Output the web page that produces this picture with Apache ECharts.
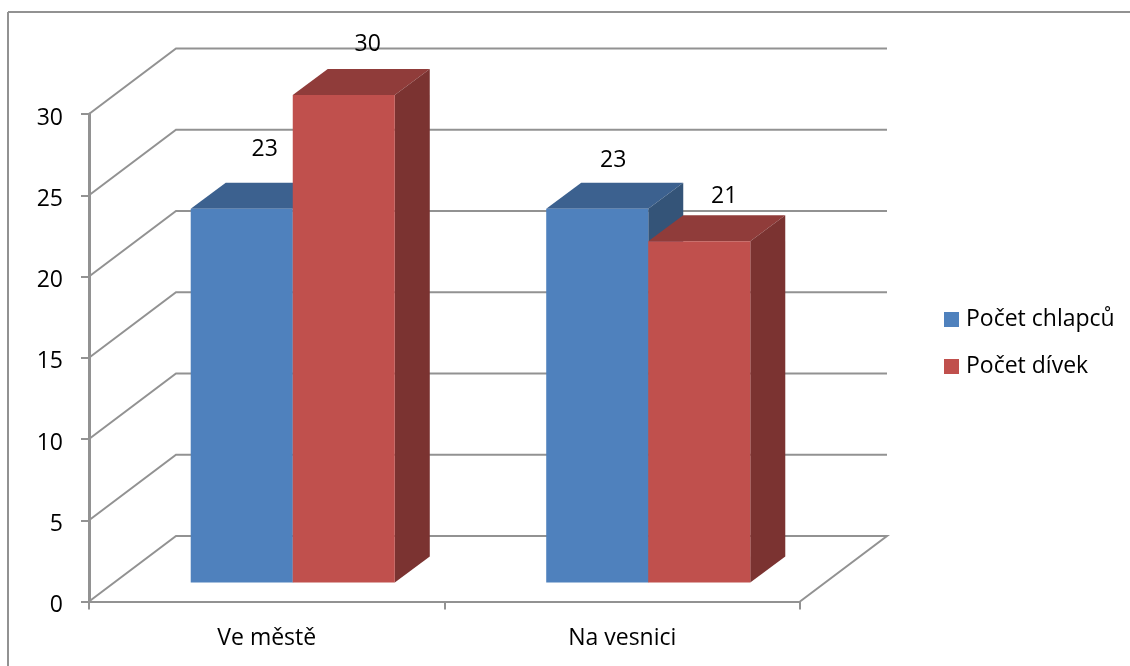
<!DOCTYPE html>
<html>
<head>
<meta charset="utf-8">
<style>
  html, body { margin: 0; padding: 0; background: #fff; }
  #chart { width: 1130px; height: 666px; }
</style>
</head>
<body>
<div id="chart"></div>
<script src="https://cdn.jsdelivr.net/npm/echarts@6/dist/echarts.min.js"></script>
<script>
var categories = ["Ve městě", "Na vesnici"];
var boys = [23, 23];
var girls = [30, 21];
var boysName = "Počet chlapců";
var girlsName = "Počet dívek";
var yTicks = [0, 5, 10, 15, 20, 25, 30];

var lineColor = "#929292";
var fontName = "'Open Sans', sans-serif";
// 3d look: how far the back wall and the bars sit behind the front plane
var wall = { dx: 87, dy: -65.5 };
var barOffset = { dx: 26, dy: -19 };
var barDepth = { dx: 35, dy: -26 };
var barRatio = 0.287;
var tickLen = 8;
// the data labels in the picture do not sit at one fixed place over the bar
var labelNudge = [
  [[23, -59], [16, -48]],
  [[24, -51], [25, -45]]
];

function renderWall(params, api) {
  var box = params.coordSys;
  var y = api.coord([0, api.value(0)])[1];
  var left = box.x;
  var right = box.x + box.width;
  var points = [[left, y], [left + wall.dx, y + wall.dy], [right + wall.dx, y + wall.dy]];
  if (api.value(0) === 0) {
    points.push([right, y]);
  }
  return {
    type: "polyline",
    shape: { points: points },
    style: { fill: "none", stroke: lineColor, lineWidth: 2 }
  };
}

function makeBar(side, colors, seriesNo) {
  return function (params, api) {
    var idx = api.value(0);
    var val = api.value(1);
    var top = api.coord([idx, val]);
    var base = api.coord([idx, 0]);
    var w = api.size([1, 0])[0] * barRatio;
    var x0 = top[0] + barOffset.dx + (side < 0 ? -w : 0);
    var x1 = x0 + w;
    var yTop = top[1] + barOffset.dy;
    var yBase = base[1] + barOffset.dy;
    var dx = barDepth.dx;
    var dy = barDepth.dy;
    var nudge = labelNudge[seriesNo][idx];
    return {
      type: "group",
      children: [
        {
          type: "polygon",
          shape: { points: [[x0, yTop], [x1, yTop], [x1 + dx, yTop + dy], [x0 + dx, yTop + dy]] },
          style: { fill: colors.top }
        },
        {
          type: "polygon",
          shape: { points: [[x1, yTop], [x1 + dx, yTop + dy], [x1 + dx, yBase + dy], [x1, yBase]] },
          style: { fill: colors.side }
        },
        {
          type: "rect",
          shape: { x: x0, y: yTop, width: w, height: yBase - yTop },
          style: { fill: colors.front }
        },
        {
          type: "text",
          z2: 50,
          style: {
            text: String(val),
            x: (x0 + x1) / 2 + nudge[0],
            y: yTop + nudge[1],
            align: "center",
            verticalAlign: "middle",
            fill: "#000",
            font: "23px " + fontName
          }
        }
      ]
    };
  };
}

function toPairs(list) {
  return list.map(function (v, i) { return [i, v]; });
}

var chart = echarts.init(document.getElementById("chart"));
chart.setOption({
  animation: false,
  backgroundColor: "#fff",
  grid: { left: 89, top: 114, width: 711, height: 487.5 },
  legend: {
    orient: "vertical",
    left: 944,
    top: 308,
    data: [boysName, girlsName],
    icon: "rect",
    itemWidth: 15,
    itemHeight: 15,
    itemGap: 24,
    padding: 0,
    textStyle: { color: "#000", fontSize: 23, fontFamily: fontName, padding: [0, 0, 0, 2] }
  },
  graphic: [
    {
      type: "line",
      shape: { x1: 8, y1: 12, x2: 8, y2: 666 },
      style: { stroke: lineColor, lineWidth: 2 }
    },
    {
      type: "line",
      shape: { x1: 8, y1: 12, x2: 1130, y2: 12 },
      style: { stroke: lineColor, lineWidth: 2 }
    }
  ],
  xAxis: {
    type: "category",
    data: categories,
    axisLine: { show: true, onZero: false, lineStyle: { color: lineColor, width: 2 } },
    axisTick: { show: true, length: tickLen, lineStyle: { color: lineColor, width: 2 } },
    axisLabel: { color: "#000", fontSize: 23, fontFamily: fontName, margin: 25 }
  },
  yAxis: {
    type: "value",
    min: 0,
    max: 30,
    interval: 5,
    axisLine: { show: true, onZero: false, lineStyle: { color: lineColor, width: 3 } },
    axisTick: { show: true, length: tickLen, lineStyle: { color: lineColor, width: 2 } },
    axisLabel: { color: "#000", fontSize: 23, fontFamily: fontName, margin: 26, verticalAlign: "top", lineHeight: 8 },
    splitLine: { show: false }
  },
  series: [
    {
      name: "walls",
      type: "custom",
      z: 1,
      silent: true,
      renderItem: renderWall,
      encode: { y: 0 },
      data: yTicks.map(function (v) { return [v]; })
    },
    {
      name: boysName,
      type: "custom",
      z: 2,
      itemStyle: { color: "#4f81bd" },
      renderItem: makeBar(-1, { front: "#4f81bd", top: "#3c618f", side: "#345478" }, 0),
      encode: { x: 0, y: 1 },
      data: toPairs(boys)
    },
    {
      name: girlsName,
      type: "custom",
      z: 3,
      itemStyle: { color: "#c0504d" },
      renderItem: makeBar(1, { front: "#c0504d", top: "#903c3a", side: "#7b3331" }, 1),
      encode: { x: 0, y: 1 },
      data: toPairs(girls)
    }
  ]
});
</script>
</body>
</html>
